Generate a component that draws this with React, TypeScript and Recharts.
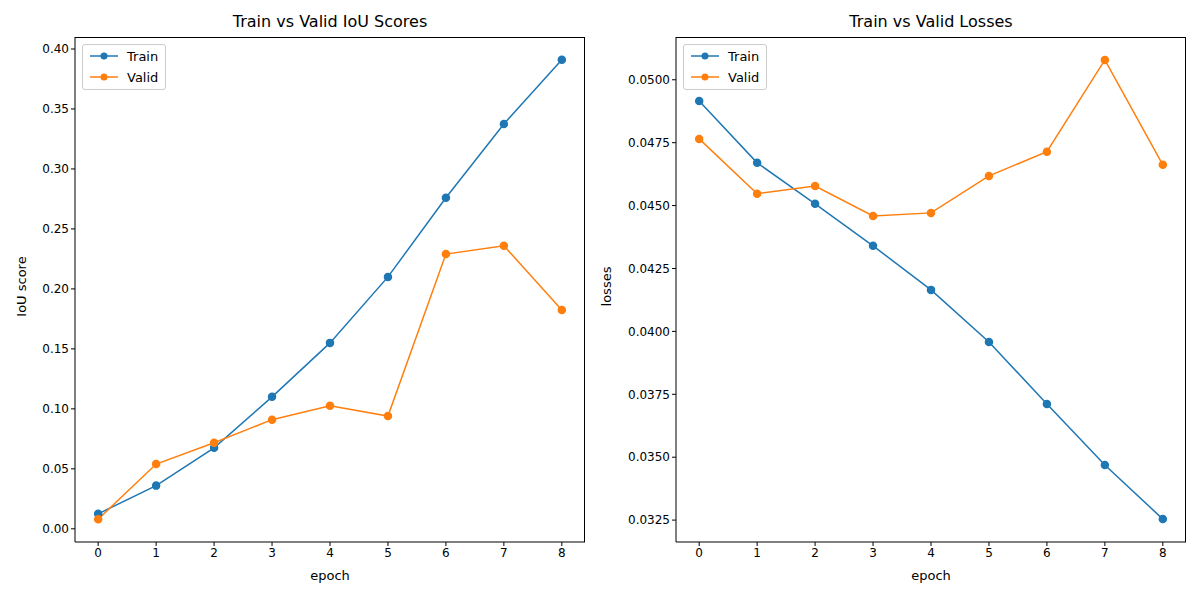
import React from 'react';
import { LineChart, Line, XAxis, YAxis } from 'recharts';

const epochs = [0, 1, 2, 3, 4, 5, 6, 7, 8];
const trainIou = [0.0125, 0.036, 0.0675, 0.11, 0.155, 0.21, 0.276, 0.3375, 0.391];
const validIou = [0.008, 0.054, 0.0717, 0.091, 0.1025, 0.094, 0.229, 0.236, 0.1825];
const trainLoss = [0.04916, 0.0467, 0.04507, 0.0434, 0.04165, 0.03958, 0.03711, 0.03469, 0.03254];
const validLoss = [0.04765, 0.04547, 0.04578, 0.04459, 0.04471, 0.04618, 0.04714, 0.05079, 0.04662];
const iouTicks = [0, 0.05, 0.1, 0.15, 0.2, 0.25, 0.3, 0.35, 0.4];
const lossTicks = [0.0325, 0.035, 0.0375, 0.04, 0.0425, 0.045, 0.0475, 0.05];

const BLUE = '#1f77b4';
const ORANGE = '#ff7f0e';
const FONT = 'DejaVu Sans, sans-serif';

const iouData = epochs.map((e, i) => ({ epoch: e, train: trainIou[i], valid: validIou[i] }));
const lossData = epochs.map((e, i) => ({ epoch: e, train: trainLoss[i], valid: validLoss[i] }));

const Legend = () => (
  <div style={{ position: 'absolute', left: 82, top: 44, width: 82, height: 44, border: '1px solid #ccc', borderRadius: 3, background: 'white', fontFamily: FONT, fontSize: 13 }}>
    {[['Train', BLUE], ['Valid', ORANGE]].map(([n, c], i) => (
      <div key={n} style={{ position: 'absolute', left: 6, top: 3 + i * 21, display: 'flex', alignItems: 'center' }}>
        <svg width={30} height={16}>
          <line x1={1} x2={29} y1={8} y2={8} stroke={c} strokeWidth={1.5} />
          <circle cx={15} cy={8} r={3.5} fill={c} />
        </svg>
        <span style={{ marginLeft: 8 }}>{n}</span>
      </div>
    ))}
  </div>
);

const Panel = ({ left, title, ylabel, labelX, data, ticks, domain, fmt, yw }: any) => (
  <div style={{ position: 'absolute', left, top: 0, width: 600, height: 600 }}>
    <div style={{ position: 'absolute', top: 12, left: 75, width: 510, textAlign: 'center', fontFamily: FONT, fontSize: 16 }}>{title}</div>
    <div style={{ position: 'absolute', left: 75, top: 568, width: 510, textAlign: 'center', fontFamily: FONT, fontSize: 13 }}>epoch</div>
    <div style={{ position: 'absolute', left: labelX - 50, top: 289 - 10, width: 100, textAlign: 'center', transform: 'rotate(-90deg)', fontFamily: FONT, fontSize: 13 }}>{ylabel}</div>
    <LineChart width={600} height={600} data={data} margin={{ top: 37, right: 15, left: 75 - yw, bottom: 28 }} style={{ fontFamily: FONT }}>
      <XAxis dataKey="epoch" type="number" domain={[-0.4, 8.4]} ticks={epochs} tick={{ fill: '#000', fontSize: 12 }} stroke="#000" tickSize={4} height={30} />
      <YAxis type="number" domain={domain} ticks={ticks} tickFormatter={fmt} tick={{ fill: '#000', fontSize: 12 }} stroke="#000" tickSize={4} width={yw} allowDataOverflow />
      <Line dataKey="train" stroke={BLUE} strokeWidth={1.5} dot={{ r: 3.5, fill: BLUE, stroke: BLUE }} isAnimationActive={false} />
      <Line dataKey="valid" stroke={ORANGE} strokeWidth={1.5} dot={{ r: 3.5, fill: ORANGE, stroke: ORANGE }} isAnimationActive={false} />
    </LineChart>
    <div style={{ position: 'absolute', left: 75, top: 37, width: 510, height: 505, border: '1px solid #000', borderLeft: 'none', borderBottom: 'none', boxSizing: 'border-box', pointerEvents: 'none' }} />
    <Legend />
  </div>
);

export default function App() {
  return (
    <div style={{ position: 'absolute', left: 0, top: 0, width: 1200, height: 600, background: 'white' }}>
      <Panel left={0} title="Train vs Valid IoU Scores" ylabel="IoU score" labelX={21} data={iouData} ticks={iouTicks} domain={[-0.011, 0.41]} fmt={(v: number) => v.toFixed(2)} yw={60} />
      <Panel left={601} title="Train vs Valid Losses" ylabel="losses" labelX={5} data={lossData} ticks={lossTicks} domain={[0.03163, 0.0517]} fmt={(v: number) => v.toFixed(4)} yw={60} />
    </div>
  );
}
